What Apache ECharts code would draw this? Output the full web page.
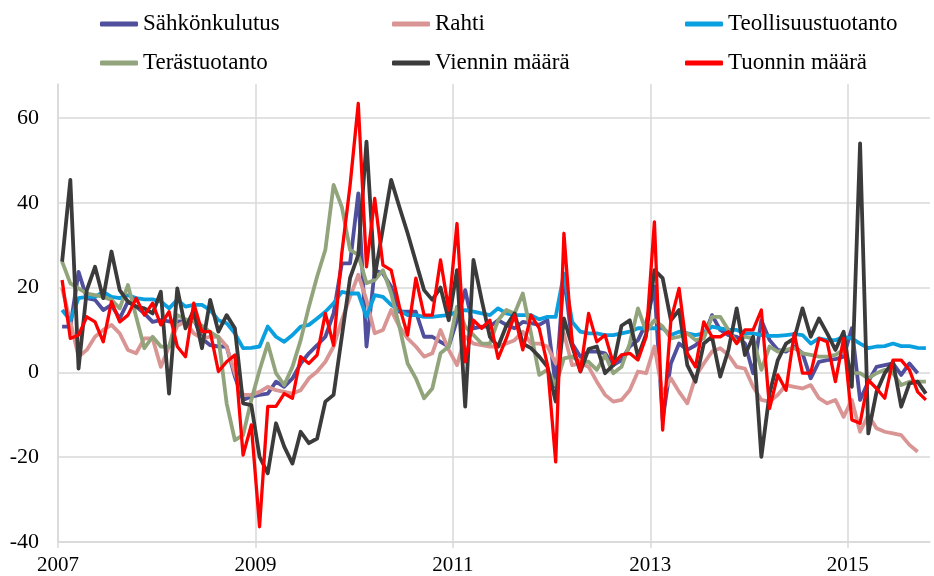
<!DOCTYPE html>
<html>
<head>
<meta charset="utf-8">
<script src="https://cdn.jsdelivr.net/npm/echarts@6/dist/echarts.min.js"></script>
<style>
html, body { margin: 0; padding: 0; background: #fff; }
#chart { width: 934px; height: 576px; }
</style>
</head>
<body>
<div id="chart"></div>
<script>
// ==========================================
// DATA (monthly, Jan 2007 - Oct 2015)
// ==========================================
const startYear = 2007;
const monthCount = 106;
const months = [];
for (let i = 0; i < monthCount; i++) {
  months.push((startYear + Math.floor(i / 12)) + '-' + String(i % 12 + 1).padStart(2, '0'));
}

const xTicks = [2007, 2009, 2011, 2013, 2015];
const yTicks = [-40, -20, 0, 20, 40, 60];

const sahkonkulutus = [
  10.8, 10.8, 23.7, 17.5, 17.1, 14.7, 15.9, 12.7, 16.7, 15.5, 13.9, 11.9,
  12.3, 12, 12, 12, 12.7, 8.0, 6.4, 6.1, 6.1, -1, -6.5, -5.7,
  -5.3, -5.0, -2.2, -3.4, -1.4, 2.1, 4.5, 6.4, 8.4, 13.9, 25.7, 25.7,
  42.2, 6.1, 24.1, 23.3, 20.2, 14.3, 14.3, 14.3, 8.4, 8.4, 7.2, 6.1,
  12.3, 19.4, 10.4, 10.8, 10.8, 12.3, 11.2, 10.4, 11.9, 11.6, 11.2, 12.3,
  -3.4, 23.3, 6.8, 3.7, 4.9, 4.9, 4.5, 1.7, 2.9, 6.1, 7.6, 11.6,
  20.2, -11.2, 2.1, 6.8, 5.3, 6.4, 8.4, 13.5, 10, 8.8, 8.4, 6.8,
  -0.2, 12.3, 7.6, 5.3, 4.9, 6.1, 4.5, -1.4, 2.5, 2.9, 3.1, 3.7,
  10.4, -6.5, -2.2, 1.3, 1.7, 2.1, -0.6, 2.1, -0.2
];

const rahti = [
  19.8, 12, 3.7, 5.3, 8.4, 10, 11.2, 9.2, 5.3, 4.5, 8.0, 8.0,
  1.3, 6.1, 11, 12, 9.2, 8, 8.4, 8.4, 6.1, -0.2, -5.3, -5.3,
  -4.6, -3.4, -4.2, -4.6, -5, -4.2, -1.4, 0.2, 2.5, 6.1, 12.3, 17.8,
  23.0, 17.1, 9.2, 10, 14.7, 10.8, 8.0, 6.1, 3.7, 4.5, 10, 5.3,
  1.7, 8.4, 6.8, 6.4, 6.1, 6.1, 6.8, 7.6, 9.6, 6.8, 6.8, 6.1,
  2.1, 9.2, 1.7, 2.1, 1.3, -2.2, -5.3, -6.9, -6.5, -4.2, 0.2, -0.2,
  6.1, -5, -1.4, -4.6, -7.3, -1, 2.1, 4.9, 5.7, 4.1, 1.3, 0.9,
  -3.4, -6.5, -6.9, -5.3, -3, -3.4, -3.8, -3, -6.1, -7.3, -6.5, -10.5,
  -6.5, -14, -10.1, -13.2, -14, -14.4, -14.8, -17.1, -18.7
];

const teollisuustuotanto = [
  14.7, 12.3, 17.5, 17.8, 17.8, 19.0, 17.8, 17.5, 18.2, 17.5, 17.2, 17.2,
  16.7, 15.1, 17.1, 15.5, 15.9, 15.9, 14.7, 12.3, 11.6, 9.2, 5.7, 5.8,
  6.1, 10.8, 8.4, 7.2, 8.8, 10.8, 11.2, 12.7, 14.3, 16.3, 19.0, 18.6,
  18.6, 13.1, 18.2, 17.8, 15.9, 14.7, 13.5, 13.5, 13.1, 13.1, 13.3, 13.5,
  14.3, 14.7, 14.3, 13.9, 13.5, 15.1, 13.9, 13.5, 13.5, 13.5, 12.5, 13.1,
  13.1, 23.3, 11.9, 9.6, 9.2, 9.2, 8.8, 8.8, 9.2, 9.6, 10.4, 10.4,
  10.4, 10.4, 8.8, 9.6, 9.2, 8.8, 9.2, 10.8, 10.4, 10, 10, 9.2,
  9.2, 8.8, 8.6, 8.6, 8.8, 9.0, 8.8, 6.8, 8.0, 7.6, 7.6, 8.4,
  8.0, 6.8, 5.7, 6.1, 6.2, 6.8, 6.2, 6.2, 5.8, 5.7
];

const terastuotanto = [
  26.1, 21, 19.8, 18.6, 18.2, 17.8, 17.1, 15.1, 20.6, 13.1, 5.7, 8.4,
  6.1, 6, 13.5, 12.5, 12, 11, 9.5, 8.3, -7.3, -16, -14.8, -6.5,
  0.5, 6.8, -0.2, -3.0, 1.3, 7.6, 15.5, 22.6, 28.9, 44.2, 39, 28.9,
  27.7, 21.0, 21.8, 24.1, 18.6, 10.8, 2.1, -1.4, -6.1, -3.8, 4.5, 6.1,
  15.5, 10.8, 8.8, 6.8, 6.8, 12.3, 14.7, 13.9, 18.6, 9.2, -0.6, 0.6,
  -3, 3.3, 3.7, 2.5, 2.5, 0.6, 4.1, -0.2, 1.3, 6.8, 15.1, 9.6,
  12.3, 10.8, 8.0, 8.4, 9.2, 7.6, 8.0, 13.1, 13.1, 10, 7, 8.4,
  8.0, 0.6, 6.1, 4.9, 5.3, 5.7, 4.5, 4.1, 3.7, 3.7, 4.1, 5.3,
  -0.1, -0.2, -1.4, -0.2, 0.6, -0.2, -3, -2.2, -2.2, -2.2
];

const viennin = [
  26.1, 45.4, 0.9, 19.4, 24.9, 17.5, 28.5, 19.4, 16.7, 15.5, 15.1, 13.9,
  19.0, -5.0, 19.8, 10.4, 14.7, 5.7, 17.1, 9.6, 13.5, 10.4, -7.3, -7.7,
  -19.9, -23.8, -12, -17.5, -21.5, -14, -16.7, -15.6, -6.9, -5.3, 8.4, 22.2,
  27.7, 54.4, 22.6, 34, 45.4, 39, 32.8, 26.1, 19.4, 17.1, 20, 12.3,
  24.1, -8.1, 26.5, 17.1, 8.4, 6.1, 11, 13.9, 6.8, 5.7, 3.7, 1.3,
  -6.9, 12.7, 6.1, 0.2, 5.5, 6.1, -0.2, 1.7, 11, 12.3, 3.7, 9,
  24.1, 22.2, 12.3, 14.7, 1.7, -2.2, 6.8, 8.4, -1, 5.3, 15.1, 4.1,
  8.4, -19.9, -5, 2.9, 6.8, 8.0, 15.1, 8.4, 12.7, 9.2, 5.3, 9.6,
  -3.4, 54, -14.4, -4.6, -0.2, 2.5, -8.1, -2.6, -2.2, -5
];

const tuonnin = [
  21.8, 8.0, 8.8, 13.1, 11.9, 7.2, 16.7, 11.9, 13.5, 17.5, 13.5, 16.3,
  11.2, 14.3, 6.1, 3.7, 16.3, 9.6, 9.6, 0.2, 2.5, 4.1, -19.5, -12.4,
  -36.4, -8, -8, -5, -6.1, 3.7, 2.1, 4.1, 13.9, 6.4, 28.1, 44,
  63.4, 24.9, 41, 25.3, 24.1, 15.5, 8.8, 22.2, 13.5, 13.5, 26.5, 14.7,
  35.1, 2.5, 12.3, 10.4, 12.3, 3.3, 8, 13.5, 5.3, 13.5, 10.4, 1.7,
  -21.1, 32.8, 6.8, 0.2, 13.9, 7.2, 8.8, 2.1, 4.1, 4.5, 2.9, 8.4,
  35.5, -13.6, 12.3, 19.8, 4.5, 1.3, 11.9, 8.4, 8.4, 9.6, 6.8, 10,
  10, 14.7, -8.5, -0.6, -4.2, 9.2, -0.2, -0.2, 8.0, 7.2, -2.2, 8,
  -11.2, -12, -1.8, -3.8, -6.1, 2.9, 2.9, 0.6, -4.6, -6.5
];

// ==========================================
// CHART
// ==========================================
const chart = echarts.init(document.getElementById('chart'), null, { renderer: 'canvas' });

const serif = 'Liberation Serif, Times New Roman, serif';

// each point sits in the middle of its month
function toPoints(values) {
  return values.map((v, i) => [i + 0.5, v, months[i]]);
}

const seriesDefs = [
  { name: 'Sähkönkulutus', data: sahkonkulutus, color: '#4f4f9d' },
  { name: 'Rahti', data: rahti, color: '#d99594' },
  { name: 'Teollisuustuotanto', data: teollisuustuotanto, color: '#0aa0e0' },
  { name: 'Terästuotanto', data: terastuotanto, color: '#91a47c' },
  { name: 'Viennin määrä', data: viennin, color: '#3b3b3b' },
  { name: 'Tuonnin määrä', data: tuonnin, color: '#ff0000' }
];

const legendBase = {
  orient: 'vertical',
  top: 12,
  padding: 0,
  itemWidth: 38,
  itemHeight: 5,
  itemGap: 15,
  icon: 'roundRect',
  textStyle: { fontFamily: serif, fontSize: 23, color: '#000', lineHeight: 24 }
};

const option = {
  animation: false,
  backgroundColor: '#fff',
  color: seriesDefs.map(s => s.color),
  legend: [
    Object.assign({}, legendBase, { left: 100, data: ['Sähkönkulutus', 'Terästuotanto'] }),
    Object.assign({}, legendBase, { left: 392, data: ['Rahti', 'Viennin määrä'] }),
    Object.assign({}, legendBase, { left: 685, data: ['Teollisuustuotanto', 'Tuonnin määrä'] })
  ],
  grid: { left: 58, right: 4, top: 84, bottom: 34 },
  xAxis: {
    type: 'value',
    min: 0,
    max: monthCount,
    interval: 24,
    axisLine: { show: true, onZero: false, lineStyle: { color: '#d9d9d9', width: 1.5 } },
    axisTick: { show: true, length: 6, lineStyle: { color: '#d9d9d9', width: 1.5 } },
    axisLabel: {
      showMaxLabel: false,
      margin: 13,
      fontFamily: serif,
      fontSize: 21,
      color: '#000',
      formatter: v => String(xTicks[Math.round(v / 24)] ?? '')
    },
    splitLine: { show: true, showMaxLine: false, lineStyle: { color: '#d9d9d9', width: 1.5 } }
  },
  yAxis: {
    type: 'value',
    min: yTicks[0],
    max: 68,
    interval: 20,
    axisLine: { show: true, lineStyle: { color: '#d9d9d9', width: 1.5 } },
    axisTick: { show: false },
    axisLabel: {
      showMaxLabel: false,
      margin: 19,
      fontFamily: serif,
      fontSize: 22,
      color: '#000'
    },
    splitLine: { show: true, showMaxLine: false, lineStyle: { color: '#d9d9d9', width: 1.5 } }
  },
  series: seriesDefs.map(s => ({
    name: s.name,
    type: 'line',
    data: toPoints(s.data),
    showSymbol: false,
    symbol: 'none',
    clip: false,
    lineStyle: { color: s.color, width: s.name === 'Tuonnin määrä' ? 3.3 : 3.8, join: 'round' },
    itemStyle: { color: s.color }
  }))
};

chart.setOption(option);
</script>
</body>
</html>
